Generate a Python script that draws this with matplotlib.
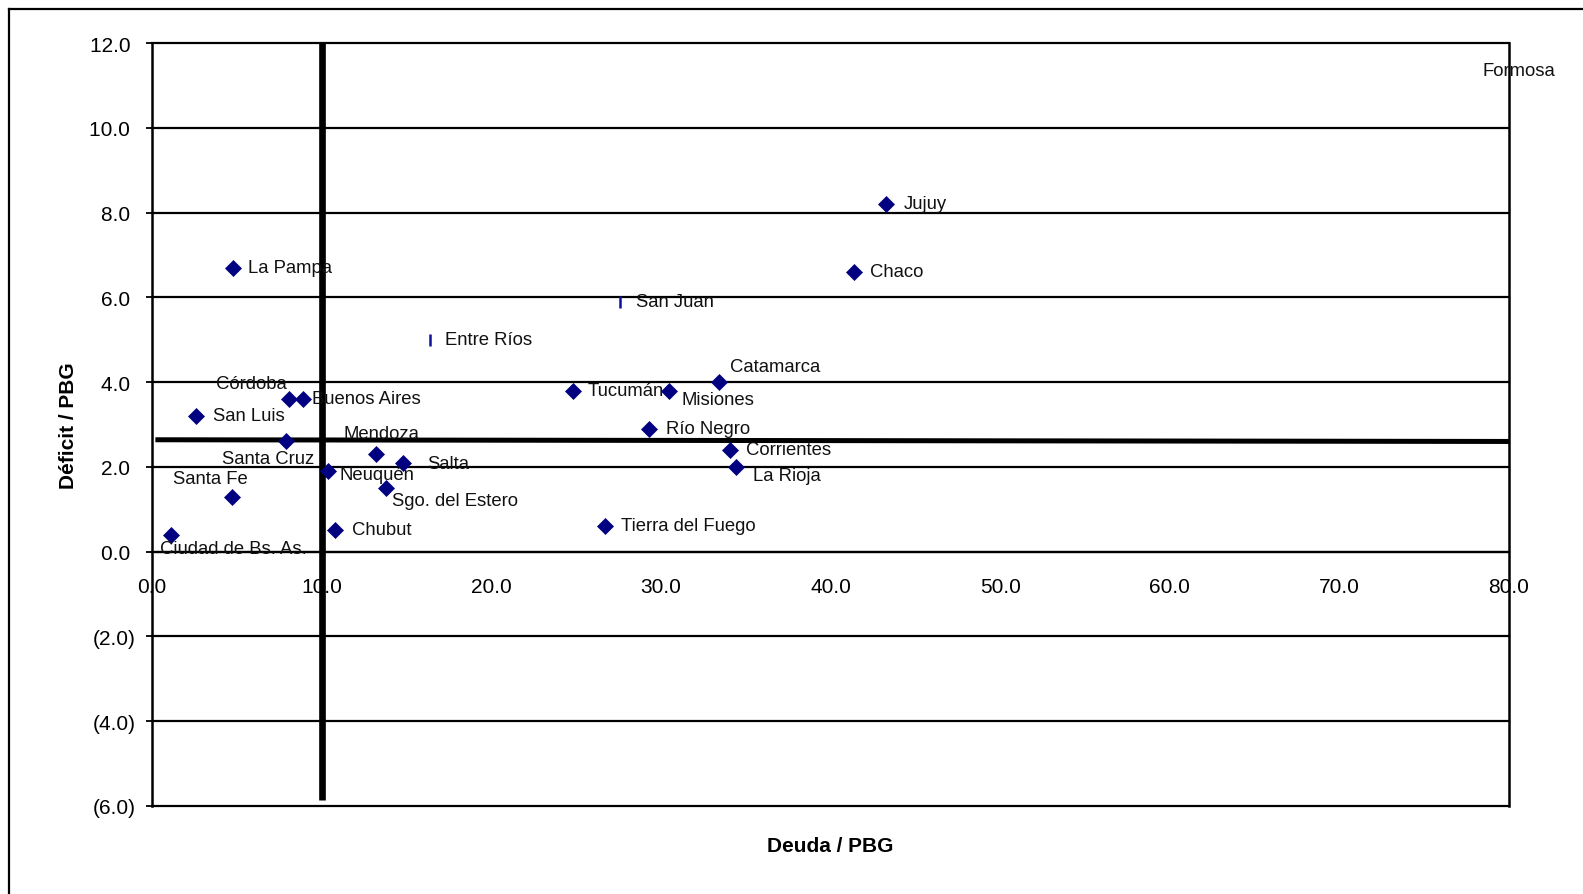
import matplotlib
matplotlib.use("Agg")
import matplotlib.pyplot as plt
from matplotlib.lines import Line2D
from matplotlib.ticker import FuncFormatter

plt.rcParams['font.family'] = ['Liberation Sans', 'DejaVu Sans']

# Provincial debt and deficit, both as % of gross geographic product (PBG)
provinces = ["La Pampa", "Jujuy", "Chaco", "San Juan", "Entre Ríos", "Catamarca",
             "Tucumán", "Misiones", "Río Negro", "Corrientes", "La Rioja",
             "Tierra del Fuego", "Córdoba", "Buenos Aires", "San Luis", "Santa Cruz",
             "Mendoza", "Salta", "Neuquén", "Sgo. del Estero", "Chubut", "Santa Fe",
             "Ciudad de Bs. As.", "Formosa"]
deuda = [4.8, 43.3, 41.4, 27.6, 16.4, 33.4,
         24.8, 30.5, 29.3, 34.1, 34.4,
         26.7, 8.1, 8.9, 2.6, 7.9,
         13.2, 14.8, 10.4, 13.8, 10.8, 4.7,
         1.1, 84.0]
deficit = [6.7, 8.2, 6.6, 5.9, 5.0, 4.0,
           3.8, 3.8, 2.9, 2.4, 2.0,
           0.6, 3.6, 3.6, 3.2, 2.6,
           2.3, 2.1, 1.9, 1.5, 0.5, 1.3,
           0.4, 11.3]
bar_marker = ["San Juan", "Entre Ríos"]

# Reference lines: debt threshold and average deficit
deuda_ref = 10.0
deficit_ref_x = [0.2, 80.0]
deficit_ref_y = [2.64, 2.60]

x_ticks = [0, 10, 20, 30, 40, 50, 60, 70, 80]
y_ticks = [-6, -4, -2, 0, 2, 4, 6, 8, 10, 12]

# label placement: (dx px, dy px, horizontal alignment)
label_pos = {
    "La Pampa": (15, 0, "left"), "Jujuy": (17, 0, "left"), "Chaco": (16, 0, "left"),
    "San Juan": (16, 0, "left"), "Entre Ríos": (15, 0, "left"),
    "Catamarca": (11, 15, "left"), "Tucumán": (15, 0, "left"),
    "Misiones": (12, -9, "left"), "Río Negro": (17, 0, "left"),
    "Corrientes": (16, 0, "left"), "La Rioja": (17, -9, "left"),
    "Tierra del Fuego": (16, 0, "left"), "Córdoba": (-3, 15, "right"),
    "Buenos Aires": (9, 0, "left"), "San Luis": (17, 0, "left"),
    "Santa Cruz": (28, -18, "right"), "Mendoza": (6, 20, "center"),
    "Salta": (24, -1, "left"), "Neuquén": (11, -4, "left"),
    "Sgo. del Estero": (6, -13, "left"), "Chubut": (17, 0, "left"),
    "Santa Fe": (-21, 18, "center"), "Ciudad de Bs. As.": (-11, -14, "left"),
}
LABEL_LIFT = 2.5  # px, baseline correction for data labels

DPI = 100
PT = 72.0 / DPI
W, H = 1583, 895
fig = plt.figure(figsize=(W / DPI, H / DPI), dpi=DPI)
fig.patch.set_facecolor("white")

left, right, top, bottom = 152, 1509, 44, 807
ax = fig.add_axes([left / W, 1 - bottom / H, (right - left) / W, (bottom - top) / H])
ax.set_xlim(0, 80)
ax.set_ylim(-6, 12)

# grid and frame
for yv in y_ticks:
    ax.axhline(yv, color="black", lw=1.6, zorder=1, clip_on=False)
for side in ["left", "right"]:
    ax.spines[side].set_linewidth(1.8)
ax.spines["top"].set_visible(False)
ax.spines["bottom"].set_position(("data", 0))
ax.spines["bottom"].set_linewidth(1.6)

ax.set_yticks(y_ticks)
ax.yaxis.set_major_formatter(FuncFormatter(
    lambda v, p: f"({abs(v):.1f})" if v < 0 else f"{v:.1f} "))
ax.tick_params(axis="y", direction="out", length=4.5, width=1.3, pad=7,
               labelsize=15, colors="black")
ax.set_xticks(x_ticks)
ax.xaxis.set_major_formatter(FuncFormatter(lambda v, p: f"{v:.1f}"))
ax.tick_params(axis="x", length=0, pad=18, labelsize=15, colors="black")
for lab in ax.get_xticklabels():
    lab.set_zorder(1)

# reference lines
ax.plot([deuda_ref, deuda_ref], [12, -5.85], color="black", lw=4.8,
        solid_capstyle="butt", zorder=3)
ax.plot(deficit_ref_x, deficit_ref_y, color="black", lw=3.6,
        solid_capstyle="butt", zorder=3)

# points and labels
for name, xv, yv in zip(provinces, deuda, deficit):
    if name in bar_marker:
        ax.plot(xv, yv, marker="|", ms=8.5, mew=1.8, color="#1010a0",
                linestyle="none", zorder=4)
    else:
        ax.plot(xv, yv, marker="D", ms=7.9, mew=0.5, color="#000080",
                linestyle="none", zorder=4)
    if name in label_pos:
        dx, dy, ha = label_pos[name]
        ax.annotate(name, (xv, yv), xytext=(dx * PT, (dy + LABEL_LIFT) * PT),
                    textcoords="offset points", ha=ha, va="center_baseline",
                    fontsize=13.3, color="#111111", zorder=5,
                    annotation_clip=False)
    else:
        ax.text((1483 - left) / (right - left),
                (bottom - 72 + LABEL_LIFT) / (bottom - top),
                name, transform=ax.transAxes, ha="left", va="center_baseline",
                fontsize=13.3, color="#111111", zorder=5)

ax.set_xlabel("Deuda / PBG", fontsize=15, fontweight="bold")
ax.xaxis.set_label_coords(0.5, (bottom - 837) / (bottom - top))
ax.set_ylabel("Déficit / PBG", fontsize=15, fontweight="bold")
ax.yaxis.set_label_coords((78 - left) / (right - left), 0.5)

# outer chart border (top and left edges visible)
fig.add_artist(Line2D([9 / W, 9 / W], [0, 1 - 10 / H], transform=fig.transFigure,
                      color="black", lw=1.6))
fig.add_artist(Line2D([9 / W, 1], [1 - 10 / H, 1 - 10 / H], transform=fig.transFigure,
                      color="black", lw=1.6))

fig.savefig("out.png", dpi=DPI, facecolor="white")
